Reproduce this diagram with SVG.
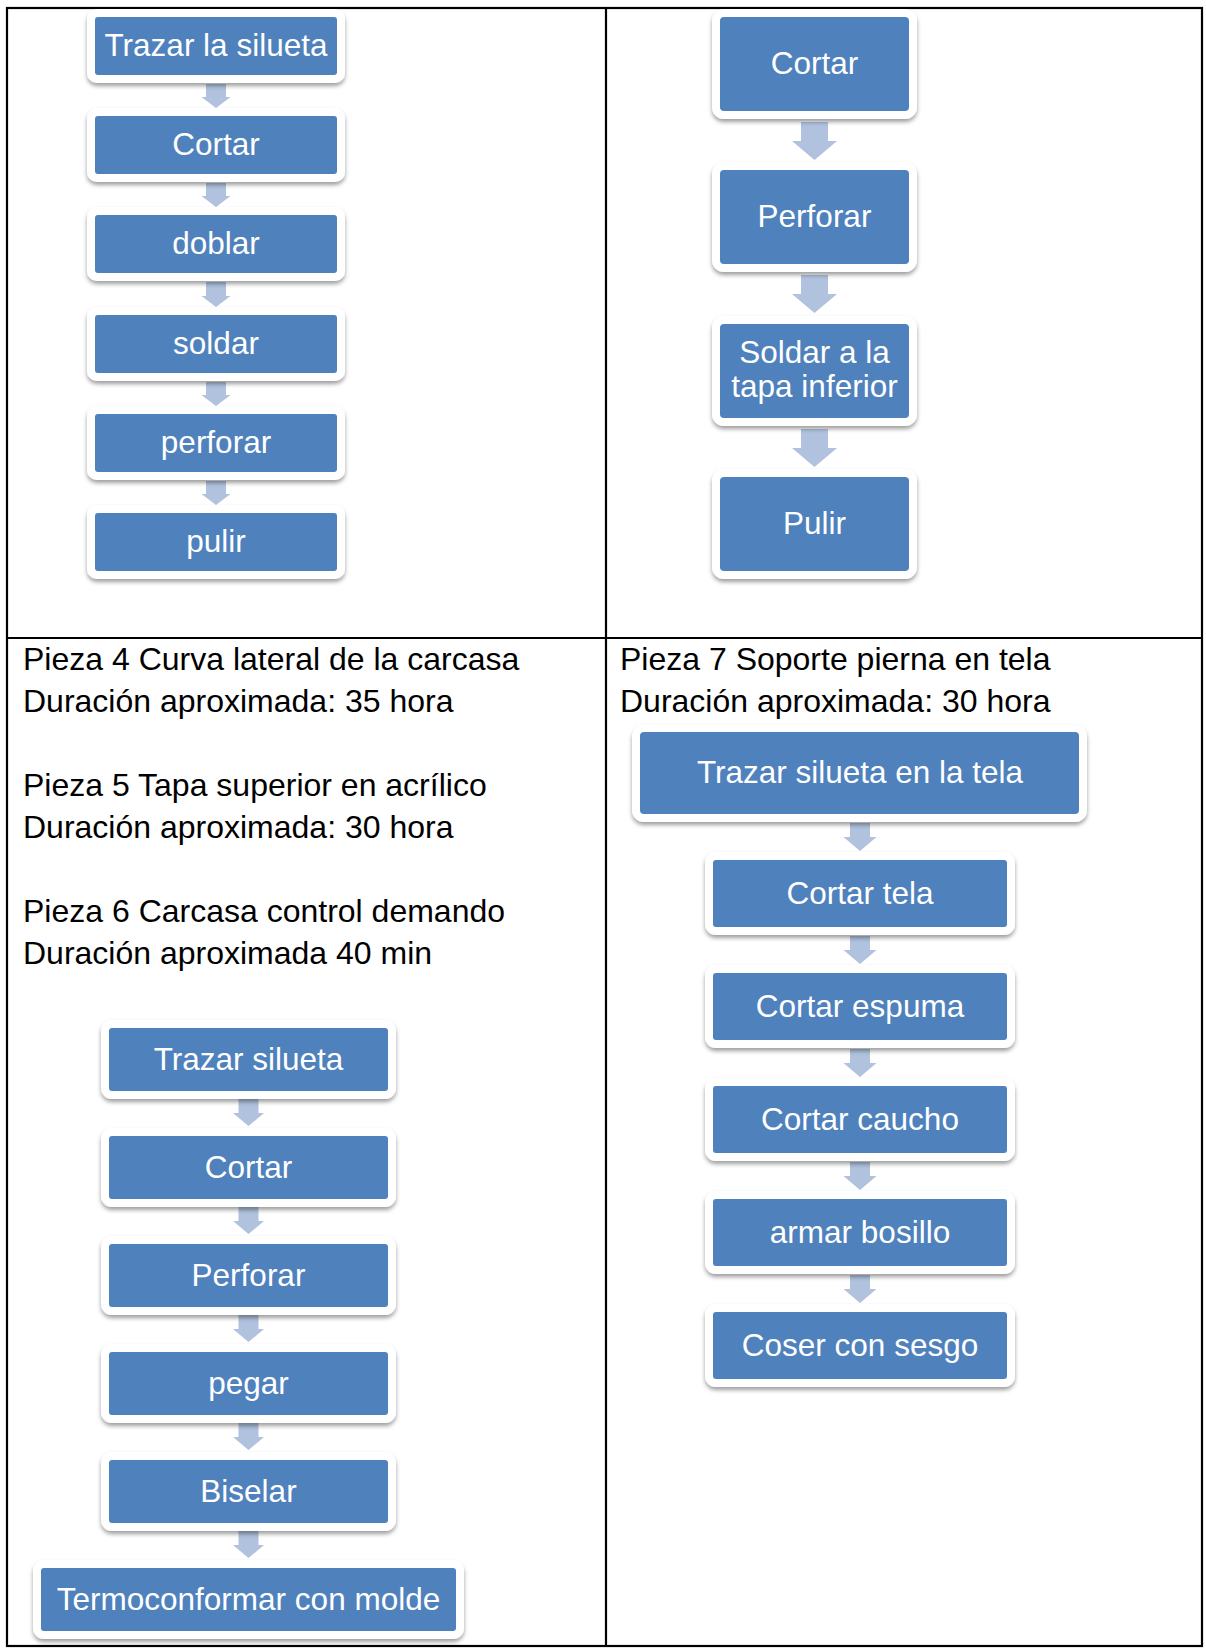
<svg xmlns="http://www.w3.org/2000/svg" width="1206" height="1648" viewBox="0 0 1206 1648">
  <style>
    .frame { fill: #ffffff; filter: url(#shadow); }
    .box { fill: #4F81BD; }
    .lbl { font-family: "Liberation Sans", Arial, sans-serif; font-size: 31.5px; fill: #ffffff; text-anchor: middle; }
    .hdr { font-family: "Liberation Sans", Arial, sans-serif; font-size: 32px; fill: #000000; }
    .arrow { fill: #B0C2DE; }
    .grid { fill: none; stroke: #000000; stroke-width: 2.2; }
  </style>
  <defs>
    <filter id="shadow" x="-10%" y="-20%" width="120%" height="150%">
      <feDropShadow dx="0" dy="3" stdDeviation="2.2" flood-color="#000000" flood-opacity="0.38"/>
    </filter>
  </defs>

  <rect width="1206" height="1648" fill="#ffffff"/>

  <!-- table grid -->
  <g id="table">
    <rect class="grid" x="7" y="8" width="1195" height="1638"/>
    <line class="grid" x1="606" y1="8" x2="606" y2="1646"/>
    <line class="grid" x1="7" y1="638" x2="1202" y2="638"/>
  </g>

  <!-- header texts -->
  <g id="texts-left">
    <text class="hdr" x="23" y="670">Pieza 4 Curva lateral de la carcasa</text>
    <text class="hdr" x="23" y="712">Duración aproximada: 35 hora</text>
    <text class="hdr" x="23" y="796">Pieza 5 Tapa superior en acrílico</text>
    <text class="hdr" x="23" y="838">Duración aproximada: 30 hora</text>
    <text class="hdr" x="23" y="922">Pieza 6 Carcasa control demando</text>
    <text class="hdr" x="23" y="964">Duración aproximada 40 min</text>
  </g>
  <g id="texts-right">
    <text class="hdr" x="620" y="670">Pieza 7 Soporte pierna en tela</text>
    <text class="hdr" x="620" y="712">Duración aproximada: 30 hora</text>
  </g>

  <!-- connectors -->
  <g id="connectors">
    <!-- column A -->
    <path class="arrow" d="M206,84 H226 V97 H230.5 L216,108 L201.5,97 H206 Z"/>
    <path class="arrow" d="M206,183 H226 V196 H230.5 L216,207 L201.5,196 H206 Z"/>
    <path class="arrow" d="M206,282 H226 V296 H230.5 L216,307 L201.5,296 H206 Z"/>
    <path class="arrow" d="M206,382 H226 V395 H230.5 L216,406 L201.5,395 H206 Z"/>
    <path class="arrow" d="M206,481 H226 V494 H230.5 L216,505 L201.5,494 H206 Z"/>
    <!-- column B -->
    <path class="arrow" d="M801,122 H828 V141 H837 L814.5,160 L792,141 H801 Z"/>
    <path class="arrow" d="M801,275 H828 V294 H837 L814.5,313 L792,294 H801 Z"/>
    <path class="arrow" d="M801,429 H828 V448 H837 L814.5,467 L792,448 H801 Z"/>
    <!-- column C -->
    <path class="arrow" d="M238.5,1099 H258.5 V1113 H264 L248.5,1126 L233,1113 H238.5 Z"/>
    <path class="arrow" d="M238.5,1207 H258.5 V1221 H264 L248.5,1234 L233,1221 H238.5 Z"/>
    <path class="arrow" d="M238.5,1315 H258.5 V1329 H264 L248.5,1342 L233,1329 H238.5 Z"/>
    <path class="arrow" d="M238.5,1423 H258.5 V1437 H264 L248.5,1450 L233,1437 H238.5 Z"/>
    <path class="arrow" d="M238.5,1531 H258.5 V1545 H264 L248.5,1558 L233,1545 H238.5 Z"/>
    <!-- column D -->
    <path class="arrow" d="M850,823 H870 V837 H876.5 L860,851 L843.5,837 H850 Z"/>
    <path class="arrow" d="M850,936 H870 V950 H876.5 L860,964 L843.5,950 H850 Z"/>
    <path class="arrow" d="M850,1049 H870 V1063 H876.5 L860,1077 L843.5,1063 H850 Z"/>
    <path class="arrow" d="M850,1162 H870 V1176 H876.5 L860,1190 L843.5,1176 H850 Z"/>
    <path class="arrow" d="M850,1275 H870 V1289 H876.5 L860,1303 L843.5,1289 H850 Z"/>
  </g>

  <!-- column A: top left -->
  <g id="a1"><rect class="frame" x="87" y="9" width="258" height="74" rx="10"/><rect class="box" x="95" y="17" width="242" height="58" rx="3"/><text class="lbl" x="216" y="56">Trazar la silueta</text></g>
  <g id="a2"><rect class="frame" x="87" y="108" width="258" height="74" rx="10"/><rect class="box" x="95" y="116" width="242" height="58" rx="3"/><text class="lbl" x="216" y="155">Cortar</text></g>
  <g id="a3"><rect class="frame" x="87" y="207" width="258" height="74" rx="10"/><rect class="box" x="95" y="215" width="242" height="58" rx="3"/><text class="lbl" x="216" y="254">doblar</text></g>
  <g id="a4"><rect class="frame" x="87" y="307" width="258" height="74" rx="10"/><rect class="box" x="95" y="315" width="242" height="58" rx="3"/><text class="lbl" x="216" y="354">soldar</text></g>
  <g id="a5"><rect class="frame" x="87" y="406" width="258" height="74" rx="10"/><rect class="box" x="95" y="414" width="242" height="58" rx="3"/><text class="lbl" x="216" y="453">perforar</text></g>
  <g id="a6"><rect class="frame" x="87" y="505" width="258" height="74" rx="10"/><rect class="box" x="95" y="513" width="242" height="58" rx="3"/><text class="lbl" x="216" y="552">pulir</text></g>

  <!-- column B: top right -->
  <g id="b1"><rect class="frame" x="712" y="9" width="205" height="110" rx="12"/><rect class="box" x="720" y="17" width="189" height="94" rx="4"/><text class="lbl" x="814.5" y="74">Cortar</text></g>
  <g id="b2"><rect class="frame" x="712" y="162" width="205" height="110" rx="12"/><rect class="box" x="720" y="170" width="189" height="94" rx="4"/><text class="lbl" x="814.5" y="227">Perforar</text></g>
  <g id="b3"><rect class="frame" x="712" y="316" width="205" height="110" rx="12"/><rect class="box" x="720" y="324" width="189" height="94" rx="4"/><text class="lbl" x="814.5" y="363">Soldar a la</text><text class="lbl" x="814.5" y="397">tapa inferior</text></g>
  <g id="b4"><rect class="frame" x="712" y="469" width="205" height="110" rx="12"/><rect class="box" x="720" y="477" width="189" height="94" rx="4"/><text class="lbl" x="814.5" y="534">Pulir</text></g>

  <!-- column C: bottom left -->
  <g id="c1"><rect class="frame" x="101" y="1020" width="295" height="79" rx="11"/><rect class="box" x="109" y="1028" width="279" height="63" rx="3"/><text class="lbl" x="248.5" y="1069.5">Trazar silueta</text></g>
  <g id="c2"><rect class="frame" x="101" y="1128" width="295" height="79" rx="11"/><rect class="box" x="109" y="1136" width="279" height="63" rx="3"/><text class="lbl" x="248.5" y="1177.5">Cortar</text></g>
  <g id="c3"><rect class="frame" x="101" y="1236" width="295" height="79" rx="11"/><rect class="box" x="109" y="1244" width="279" height="63" rx="3"/><text class="lbl" x="248.5" y="1285.5">Perforar</text></g>
  <g id="c4"><rect class="frame" x="101" y="1344" width="295" height="79" rx="11"/><rect class="box" x="109" y="1352" width="279" height="63" rx="3"/><text class="lbl" x="248.5" y="1393.5">pegar</text></g>
  <g id="c5"><rect class="frame" x="101" y="1452" width="295" height="79" rx="11"/><rect class="box" x="109" y="1460" width="279" height="63" rx="3"/><text class="lbl" x="248.5" y="1501.5">Biselar</text></g>
  <g id="c6"><rect class="frame" x="33" y="1560" width="431" height="79" rx="11"/><rect class="box" x="41" y="1568" width="415" height="63" rx="3"/><text class="lbl" x="248.5" y="1609.5">Termoconformar con molde</text></g>

  <!-- column D: bottom right -->
  <g id="d1"><rect class="frame" x="632" y="725" width="455" height="97" rx="12"/><rect class="box" x="640" y="732" width="439" height="82" rx="4"/><text class="lbl" x="860" y="783">Trazar silueta en la tela</text></g>
  <g id="d2"><rect class="frame" x="705" y="852" width="310" height="83" rx="11"/><rect class="box" x="713" y="860" width="294" height="67" rx="3"/><text class="lbl" x="860" y="903.5">Cortar tela</text></g>
  <g id="d3"><rect class="frame" x="705" y="965" width="310" height="83" rx="11"/><rect class="box" x="713" y="973" width="294" height="67" rx="3"/><text class="lbl" x="860" y="1016.5">Cortar espuma</text></g>
  <g id="d4"><rect class="frame" x="705" y="1078" width="310" height="83" rx="11"/><rect class="box" x="713" y="1086" width="294" height="67" rx="3"/><text class="lbl" x="860" y="1129.5">Cortar caucho</text></g>
  <g id="d5"><rect class="frame" x="705" y="1191" width="310" height="83" rx="11"/><rect class="box" x="713" y="1199" width="294" height="67" rx="3"/><text class="lbl" x="860" y="1242.5">armar bosillo</text></g>
  <g id="d6"><rect class="frame" x="705" y="1304" width="310" height="83" rx="11"/><rect class="box" x="713" y="1312" width="294" height="67" rx="3"/><text class="lbl" x="860" y="1355.5">Coser con sesgo</text></g>
</svg>
